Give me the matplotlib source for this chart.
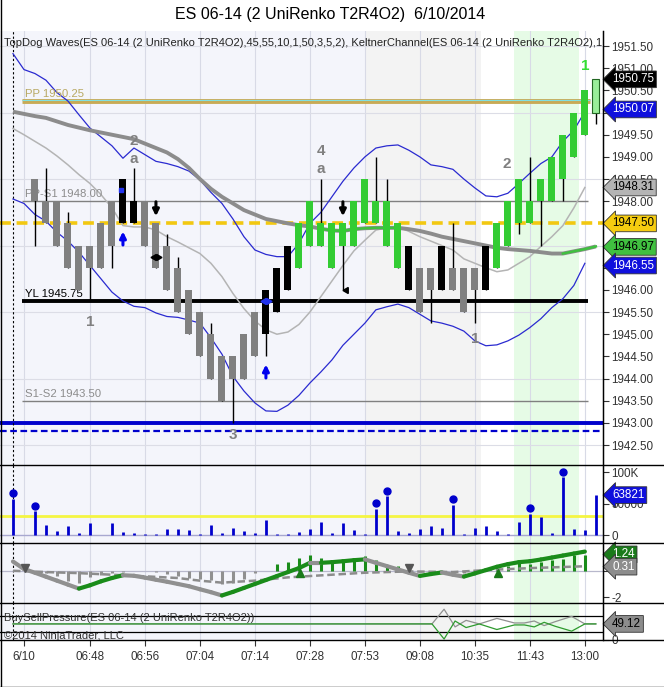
import numpy as np
import matplotlib.pyplot as plt
from matplotlib.lines import Line2D

plt.rcParams['font.family'] = ['Liberation Sans', 'DejaVu Sans']

W, H = 664, 687
nan = np.nan

# ---------------- data ----------------
# renko bars, index 0..53 (bars 0 and 1 not visible)
bar_open = [nan, nan, 1948.5, 1948.0, 1948.0, 1947.5, 1947.0, 1947.0, 1947.5, 1948.0,
            1947.5, 1947.5, 1948.0, 1947.5, 1947.0, 1946.5, 1946.0, 1945.5, 1945.0, 1944.5,
            1944.5, 1945.0, 1945.5, 1945.0, 1945.5, 1946.0, 1946.5, 1947.0, 1947.0, 1946.5,
            1947.0, 1947.0, 1947.5, 1947.5, 1947.0, 1946.5, 1946.0, 1946.5, 1946.5, 1946.0,
            1946.5, 1946.5, 1946.5, 1946.0, 1946.5, 1947.0, 1947.5, 1947.5, 1948.0, 1948.0,
            1948.5, 1949.0, 1949.5, 1950.0]
bar_close = [nan, nan, 1948.0, 1947.5, 1947.0, 1946.5, 1946.0, 1946.5, 1946.5, 1947.0,
             1948.5, 1948.0, 1947.0, 1946.5, 1946.0, 1945.5, 1945.0, 1944.5, 1944.0, 1943.5,
             1944.0, 1944.0, 1944.5, 1946.0, 1946.5, 1947.0, 1947.5, 1948.0, 1947.5, 1947.5,
             1947.5, 1948.0, 1948.5, 1948.0, 1948.0, 1947.5, 1947.0, 1945.5, 1946.0, 1947.0,
             1946.0, 1945.5, 1946.0, 1947.0, 1947.5, 1948.0, 1948.5, 1948.0, 1948.5, 1949.0,
             1949.5, 1950.0, 1950.5, 1950.75]
bar_high = [nan, nan, 1948.5, 1948.75, 1948.0, 1947.75, 1947.0, 1947.0, 1947.5, 1948.0,
            1948.5, 1948.75, 1948.0, 1947.5, 1947.25, 1946.75, 1946.0, 1945.5, 1945.25, 1944.5,
            1944.5, 1945.0, 1945.5, 1946.0, 1946.5, 1947.0, 1947.5, 1948.0, 1948.5, 1947.5,
            1947.5, 1948.0, 1948.5, 1949.0, 1948.5, 1947.5, 1947.0, 1946.5, 1946.5, 1947.0,
            1947.5, 1946.5, 1946.5, 1947.0, 1947.5, 1948.0, 1948.5, 1949.0, 1948.5, 1949.0,
            1949.5, 1950.0, 1950.5, 1950.75]
bar_low = [nan, nan, 1947.0, 1947.5, 1947.0, 1946.5, 1946.0, 1945.75, 1946.5, 1946.5,
           1947.5, 1947.5, 1947.0, 1946.5, 1946.0, 1945.5, 1945.0, 1944.5, 1944.0, 1943.5,
           1943.0, 1944.0, 1944.5, 1944.5, 1945.5, 1946.0, 1946.5, 1947.0, 1947.0, 1946.5,
           1946.0, 1947.0, 1947.5, 1947.5, 1947.0, 1946.5, 1946.0, 1945.5, 1945.25, 1946.0,
           1946.0, 1945.5, 1945.25, 1946.0, 1946.5, 1947.0, 1947.25, 1947.5, 1947.0, 1948.0,
           1948.0, 1949.0, 1949.5, 1949.75]
bar_kind = (['n'] * 2 + ['d'] * 8 + ['c', 'c'] + ['d'] * 11 + ['c'] * 3 + ['u'] * 10
            + ['c', 'd', 'd', 'c', 'd', 'd', 'd', 'c'] + ['u'] * 9 + ['f'])

kelt_upper = [1951.33, 1950.97, 1950.88, 1950.73, 1950.45, 1950.26, 1949.95, 1949.65, 1949.45, 1949.25,
              1948.97, 1949.2, 1949.05, 1948.9, 1948.85, 1948.78, 1948.68, 1948.48, 1948.2, 1947.95,
              1947.6, 1947.2, 1946.9, 1946.8, 1946.75, 1946.75, 1947.05, 1947.5, 1947.75, 1948.1,
              1948.45, 1948.75, 1949.0, 1949.2, 1949.25, 1949.27, 1949.15, 1949.0, 1948.82, 1948.78,
              1948.72, 1948.5, 1948.3, 1948.12, 1948.1, 1948.18, 1948.4, 1948.63, 1948.85, 1949.0,
              1949.35, 1949.6, 1950.02, nan]
kelt_lower = [1948.05, 1947.95, 1947.7, 1947.55, 1947.3, 1947.1, 1946.85, 1946.55, 1946.25, 1945.95,
              1945.75, 1945.63, 1945.6, 1945.48, 1945.4, 1945.38, 1945.32, 1945.25, 1944.92, 1944.55,
              1944.05, 1943.72, 1943.45, 1943.27, 1943.26, 1943.4, 1943.62, 1943.9, 1944.15, 1944.42,
              1944.75, 1945.0, 1945.25, 1945.55, 1945.62, 1945.68, 1945.6, 1945.45, 1945.3, 1945.25,
              1945.18, 1945.07, 1944.85, 1944.74, 1944.76, 1944.85, 1944.98, 1945.15, 1945.35, 1945.6,
              1945.8, 1946.1, 1946.6, nan]
kelt_mid = [1949.64, 1949.5, 1949.35, 1949.2, 1949.02, 1948.82, 1948.6, 1948.4, 1948.15, 1947.85,
            1947.45, 1947.42, 1947.42, 1947.35, 1947.2, 1947.08, 1946.95, 1946.82, 1946.6, 1946.3,
            1945.92, 1945.58, 1945.3, 1945.1, 1945.0, 1945.05, 1945.22, 1945.5, 1945.85, 1946.2,
            1946.55, 1946.88, 1947.12, 1947.35, 1947.4, 1947.42, 1947.32, 1947.2, 1947.1, 1947.0,
            1946.9, 1946.7, 1946.6, 1946.5, 1946.41, 1946.45, 1946.6, 1946.75, 1946.98, 1947.2,
            1947.45, 1947.85, 1948.31, nan]
slow_ma = [1950.02, 1949.97, 1949.92, 1949.88, 1949.8, 1949.72, 1949.66, 1949.6, 1949.55, 1949.5,
           1949.45, 1949.4, 1949.3, 1949.2, 1949.1, 1948.95, 1948.75, 1948.5, 1948.28, 1948.1,
           1947.95, 1947.8, 1947.7, 1947.6, 1947.55, 1947.5, 1947.46, 1947.43, 1947.38, 1947.34,
           1947.33, 1947.37, 1947.39, 1947.4, 1947.4, 1947.4, 1947.37, 1947.33, 1947.27, 1947.2,
           1947.15, 1947.1, 1947.05, 1947.0, 1946.95, 1946.92, 1946.9, 1946.88, 1946.85, 1946.82,
           1946.82, 1946.87, 1946.92, 1946.98]
slow_ma_green = [28, 35, 50, 53]   # index ranges drawn in green

volume = [58000, 0, 38000, 16000, 7000, 15000, 4000, 20000, 1000, 20000,
          6000, 3000, 2000, 2000, 10000, 10000, 8000, 2000, 17000, 4000,
          12000, 7000, 4000, 24000, 2000, 2000, 5000, 10000, 21000, 4000,
          20000, 8000, 2000, 42000, 62000, 7000, 4000, 10000, 15000, 12000,
          48000, 2000, 12000, 14000, 7000, 2000, 21000, 34000, 29000, 3000,
          92000, 10000, 9000, 63821]
vol_dots = [0, 2, 33, 34, 40, 47, 50]
vol_avg = 30500

osc_hist = [0.0, 0.0, -0.13, -0.2, -0.4, -0.78, -0.9, -0.44, -0.34, -0.2,
            -0.13, -0.05, -0.05, -0.13, -0.26, -0.39, -0.52, -0.6, -0.7, -0.99,
            -0.91, -0.65, -0.2, -0.03, 0.52, 0.7, 1.0, 1.2, 1.0, 0.78,
            0.85, 0.9, 1.1, 0.78, 0.45, 0.39, 0.13, -0.13, -0.13, -0.08,
            -0.13, -0.18, -0.13, 0.0, 0.13, 0.39, 0.65, 0.52, 0.65, 0.78,
            0.9, 1.17, 1.22, nan]
osc_line = [0.7, 0.13, -0.15, -0.45, -0.75, -1.05, -1.35, -1.1, -0.8, -0.55,
            -0.34, -0.38, -0.52, -0.68, -0.83, -1.0, -1.17, -1.4, -1.62, -1.87,
            -1.6, -1.3, -1.0, -0.7, -0.4, -0.1, 0.2, 0.6, 0.6, 0.65,
            0.72, 0.8, 0.86, 0.6, 0.35, 0.1, -0.15, -0.39, -0.25, -0.13,
            -0.3, -0.44, -0.2, 0.05, 0.3, 0.5, 0.65, 0.72, 0.85, 1.0,
            1.15, 1.3, 1.45, nan]
osc_signal_k = [0, 3, 6, 9, 12, 15, 17, 19, 22, 25, 28, 32, 36, 40, 43, 47, 52]
osc_signal = [0.0, -0.1, -0.18, -0.3, -0.42, -0.55, -0.75, -0.9, -0.75, -0.5, -0.35, -0.15, -0.05, -0.1, 0.05, 0.2, 0.34]
osc_dn_k = [1.05, 36.0]
osc_up_k = [26.1, 44.1]

bsp_k = [0, 38.1, 39.2, 40.2, 41.2, 42.4, 44.0, 45.6, 46.5, 47.4, 48.3, 49.3, 50.8, 52.0, 53.0]
bsp_a = [49.12, 49.12, 94, 40, 60, 49, 66, 52, 52, 58, 44, 56, 72, 49.12, 49.12]
bsp_b = [49.12, 49.12, 3, 58, 38, 49, 32, 46, 46, 40, 54, 42, 27, 49.12, 49.12]

time_k = [1, 7, 12, 17, 22, 27, 32, 37, 42, 47, 52]
time_labels = ['6/10', '06:48', '06:56', '07:04', '07:14', '07:28', '07:53', '09:08', '10:35', '11:43', '13:00']

# ---------------- layout ----------------
fig = plt.figure(figsize=(W / 100, H / 100), dpi=100)
fig.patch.set_facecolor('white')


def box(top, bot, right=603):
    return [0, 1 - bot / H, right / W, (bot - top) / H]


ax = fig.add_axes(box(31, 465))
axv = fig.add_axes(box(465, 543), sharex=ax)
axo = fig.add_axes(box(543, 603), sharex=ax)
axb = fig.add_axes(box(603, 640), sharex=ax)
axes = [ax, axv, axo, axb]

xlim = (-1.18, 53.65)
k = np.arange(54)

for a in axes:
    a.set_xlim(*xlim)
    a.set_facecolor('white')
    # session shading
    a.axvspan(xlim[0], 32, color='#f4f5fb', zorder=0, lw=0)
    a.axvspan(32, 42.6, color='#f3f3f3', zorder=0, lw=0)
    a.axvspan(45.6, 51.5, color='#e6fbe6', zorder=0, lw=0)
    for t in time_k:
        a.axvline(t, color='#d8dae6', lw=0.8, zorder=0.5)
    a.axvline(0, color='black', lw=0.8, ls=(0, (2, 2)), zorder=3)
    for s in a.spines.values():
        s.set_visible(False)
    a.tick_params(axis='x', which='both', bottom=False, labelbottom=False)
    a.yaxis.tick_right()
    a.tick_params(axis='y', direction='out', length=4, width=0.8, labelsize=8.4,
                  colors='#333333', pad=2)
    a.spines['right'].set_visible(True)
    a.spines['right'].set_color('black')

# ---------------- main price panel ----------------
ax.set_ylim(1942.05, 1951.84)
ticks = np.arange(1942.5, 1951.51, 0.5)
covered = {1950.0, 1947.5, 1947.0, 1946.5}   # sit behind the price tags
ax.set_yticks(ticks)
ax.set_yticklabels(['' if round(v, 2) in covered else '%.2f' % v for v in ticks])
for g in np.arange(1942.5, 1951.6, 1.5):
    ax.axhline(g, color='#dcdde6', lw=0.8, zorder=0.5)

# horizontal levels
ax.hlines(1950.25, 0.8, 52.5, color='#c8aa55', lw=3.5, zorder=2)
ax.hlines(1950.29, 0.8, 52.5, color='#7fe0e0', lw=0.8, zorder=2)
ax.hlines(1948.0, 0.8, 52.3, color='#808080', lw=1, zorder=2)
ax.hlines(1945.75, 0.8, 52.3, color='black', lw=2.8, zorder=2)
ax.hlines(1943.5, 0.8, 52.3, color='#808080', lw=1, zorder=2)
ax.axhline(1947.5, color='#f2c811', lw=2.6, ls=(0, (3, 1.6)), zorder=2)
ax.axhline(1943.0, color='#0000cc', lw=2.8, zorder=2)
ax.axhline(1942.82, color='#0000cc', lw=1.6, ls=(0, (3, 1.6)), zorder=2)

lbl = dict(fontsize=8.2, va='bottom', ha='left', zorder=4)
ax.text(1.05, 1950.3, 'PP 1950.25', color='#b8a862', **lbl)
ax.text(1.05, 1948.05, 'PP-S1 1948.00', color='#8c8c8c', **lbl)
ax.text(1.05, 1945.8, 'YL 1945.75', color='black', **lbl)
ax.text(1.05, 1943.55, 'S1-S2 1943.50', color='#8c8c8c', **lbl)

# indicator lines
ax.plot(k, kelt_upper, color='#2a2ad0', lw=0.9, zorder=3)
ax.plot(k, kelt_lower, color='#2a2ad0', lw=0.9, zorder=3)
ax.plot(k, kelt_mid, color='#b4b4b4', lw=1.1, zorder=3)
ax.plot(k, slow_ma, color='#8c8c8c', lw=2.8, zorder=3, solid_capstyle='butt')
for i0, i1 in zip(slow_ma_green[::2], slow_ma_green[1::2]):
    ax.plot(k[i0:i1 + 1], slow_ma[i0:i1 + 1], color='#40c040', lw=1.8, zorder=3.1)

# bars
kind_col = {'d': '#808080', 'c': 'black', 'u': '#33cc33', 'f': '#99ee99', 'n': 'none'}
op = np.array(bar_open)
cl = np.array(bar_close)
ax.vlines(k, bar_low, bar_high, color='black', lw=1, zorder=4)
ax.bar(k, np.abs(cl - op), bottom=np.minimum(op, cl), width=0.64,
       color=[kind_col[c] for c in bar_kind],
       edgecolor=['#226622' if c == 'f' else 'none' for c in bar_kind],
       linewidth=0.8, zorder=5)

# wave labels
wl = dict(color='#808080', fontsize=11, fontweight='bold', ha='center', va='center', zorder=6)
ax.text(11, 1949.35, '2', **wl)
ax.text(11, 1948.95, 'a', **wl)
ax.text(28, 1949.13, '4', **wl)
ax.text(28, 1948.72, 'a', **wl)
ax.text(7, 1945.28, '1', **wl)
ax.text(20, 1942.72, '3', **wl)
ax.text(42, 1944.9, '1', **wl)
ax.text(44.9, 1948.85, '2', **wl)
wl['color'] = '#33dd33'
ax.text(52, 1951.05, '1', **wl)

# signal arrows
ax.annotate('', xy=(10, 1947.38), xytext=(10, 1946.95),
            arrowprops=dict(arrowstyle='-|>', color='#0000ee', lw=2.2, mutation_scale=9), zorder=6)
ax.annotate('', xy=(23, 1944.38), xytext=(23, 1943.95),
            arrowprops=dict(arrowstyle='-|>', color='#0000ee', lw=2.2, mutation_scale=9), zorder=6)
ax.annotate('', xy=(13, 1947.6), xytext=(13, 1948.05),
            arrowprops=dict(arrowstyle='-|>', color='black', lw=2.2, mutation_scale=9), zorder=6)
ax.annotate('', xy=(30, 1947.6), xytext=(30, 1948.05),
            arrowprops=dict(arrowstyle='-|>', color='black', lw=2.2, mutation_scale=9), zorder=6)
ax.plot([12.8], [1946.75], marker=(3, 0, 90), color='black', ms=5, zorder=6)
ax.plot([13.2], [1946.75], marker=(3, 0, -90), color='black', ms=5, zorder=6)
ax.plot([22.8], [1945.75], marker=(3, 0, 90), color='#2233ee', ms=5, zorder=6)
ax.plot([23.2], [1945.75], marker=(3, 0, -90), color='#2233ee', ms=5, zorder=6)
ax.plot([30.3], [1946.0], marker=(3, 0, 90), color='black', ms=5, zorder=6)
ax.plot([9.8], [1948.25], marker='s', color='#2233ee', ms=3.5, zorder=6)


def tag(a, y, text, fc, tc, ec=None):
    a.annotate(text, xy=(1, y), xycoords=('axes fraction', 'data'), xytext=(6.5, 0),
               textcoords='offset points', va='center', ha='left', fontsize=8.4, color=tc,
               bbox=dict(boxstyle='larrow,pad=0.2', fc=fc, ec=ec or '#333333', lw=0.6),
               annotation_clip=False, zorder=10)


tag(ax, 1950.75, '1950.75', 'black', 'white')
tag(ax, 1950.07, '1950.07', '#1010dd', 'white')
tag(ax, 1948.31, '1948.31', '#b4b4b4', 'black')
tag(ax, 1947.50, '1947.50', '#f5cc10', 'black')
tag(ax, 1946.97, '1946.97', '#40c040', 'black')
tag(ax, 1946.55, '1946.55', '#1010dd', 'white')

# ---------------- volume panel ----------------
axv.set_ylim(-12200, 111600)
axv.set_yticks([0, 50000, 100000])
axv.set_yticklabels(['0', '50000', '100K'])
axv.axhline(0, color='#a8a8d0', lw=1, zorder=1)
axv.axhline(vol_avg, color='#f5f542', lw=2, zorder=1.5)
axv.vlines(k, 0, volume, color='#0000cc', lw=2, zorder=3)
axv.plot(k[vol_dots], np.array(volume)[vol_dots] + 9000, 'o', color='#0000cc', ms=5, zorder=4)
tag(axv, 63821, '63821', '#1010dd', 'white')

# ---------------- oscillator panel ----------------
axo.set_ylim(-2.44, 2.1)
axo.set_yticks([0, -2])
axo.set_yticklabels(['', '-2'])
axo.axhline(0, color='#b8b8cc', lw=0.9, zorder=1)
hist = np.array(osc_hist)
axo.vlines(k, 0, hist, color=np.where(hist > 0, '#1a8c1a', '#909090'), lw=2.2, zorder=2)
axo.plot(osc_signal_k, osc_signal, color='#8c8c8c', lw=1.8, ls=(0, (3, 1.5)), zorder=3)
ol = np.array(osc_line)
for i in range(len(ol) - 1):
    if np.isnan(ol[i + 1]):
        continue
    c = '#1a8c1a' if ol[i + 1] > ol[i] else '#909090'
    axo.plot(k[i:i + 2], ol[i:i + 2], color=c, lw=3, zorder=4, solid_capstyle='round')
axo.plot(osc_dn_k, [0.18] * len(osc_dn_k), 'v', color='#555555', ms=6, zorder=5)
axo.plot(osc_up_k, [-0.2] * len(osc_up_k), '^', color='#1a7a1a', ms=6, zorder=5)
tag(axo, 1.24, '1.24', '#1a7a1a', 'white')
tag(axo, 0.31, '0.31', '#8c8c8c', 'white')

# ---------------- buy/sell pressure panel ----------------
axb.set_ylim(0, 113)
axb.set_yticks([0])
axb.set_yticklabels(['0'])
axb.plot(bsp_k, bsp_a, color='#909090', lw=0.9, zorder=3)
axb.plot(bsp_k, bsp_b, color='#2e9a2e', lw=0.9, zorder=3)
tag(axb, 49.12, '49.12', '#8c8c8c', 'black')
axb.axhline(74, color='black', lw=0.9, zorder=2)
axb.axhline(25, color='black', lw=0.9, zorder=2)
axb.text(0.006, 0.6, 'BuySellPressure(ES 06-14 (2 UniRenko T2R4O2))', transform=axb.transAxes,
         fontsize=8.0, color='#333333', va='center', ha='left', zorder=6)
axb.text(0.006, 0.12, '\u00a92014 NinjaTrader, LLC', transform=axb.transAxes,
         fontsize=8.0, color='#333333', va='center', ha='left', zorder=6)

axb.tick_params(axis='x', which='both', bottom=True, labelbottom=True, length=4,
                labelsize=8.4, colors='#333333', pad=4)
axb.set_xticks(time_k)
axb.set_xticklabels(time_labels)

# ---------------- frame / titles ----------------
for y in (465, 543, 603, 640):
    fig.add_artist(Line2D([0, 1], [1 - y / H, 1 - y / H], color='black', lw=1))
fig.add_artist(Line2D([603 / W, 603 / W], [1 - 640 / H, 1 - 31 / H], color='black', lw=1))
fig.add_artist(Line2D([0.5 / W, 0.5 / W], [0, 1], color='black', lw=1))
fig.add_artist(Line2D([0, 1], [0.5 / H, 0.5 / H], color='black', lw=1))

fig.text(330 / W, 1 - 14 / H, 'ES 06-14 (2 UniRenko T2R4O2)  6/10/2014', ha='center', va='center',
         fontsize=11.5, color='black')
ax.text(0.006, 0.985, 'TopDog Waves(ES 06-14 (2 UniRenko T2R4O2),45,55,10,1,50,3,5,2), '
        'KeltnerChannel(ES 06-14 (2 UniRenko T2R4O2),1.5,10)', transform=ax.transAxes,
        fontsize=8.0, color='#222222', va='top', ha='left', zorder=8, clip_on=True)

fig.savefig('out.png', dpi=100)
